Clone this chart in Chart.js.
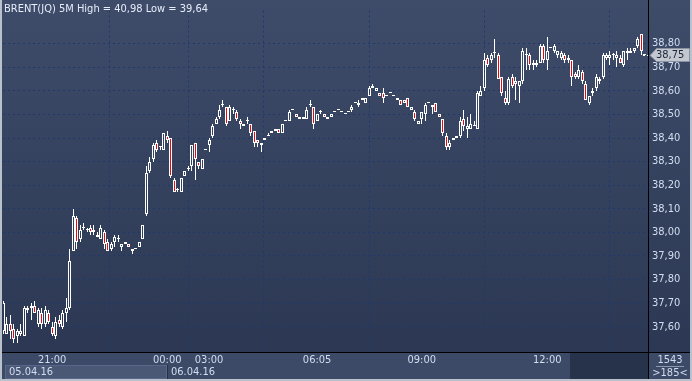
<!DOCTYPE html>
<html><head><meta charset="utf-8">
<script src="https://cdn.jsdelivr.net/npm/chart.js@4/dist/chart.umd.min.js"></script>
<style>html,body{margin:0;padding:0;background:#2e3a56;overflow:hidden}</style>
</head><body>
<canvas id="c" width="692" height="381" style="display:block;width:692px;height:381px"></canvas>
<script>
const chartTitle = 'BRENT(JQ) 5M High = 40,98 Low = 39,64';
const opens = [37.58,37.57,37.61,37.59,37.56,37.57,37.56,37.67,37.68,37.69,
37.61,37.66,37.61,37.66,37.60,37.56,37.63,37.60,37.66,
37.68,37.92,38.06,37.97,38.02,38.01,38.02,38.00,37.98,37.97,
38.00,37.96,37.93,37.96,37.97,37.94,37.95,37.95,37.92,37.93,
37.94,37.97,38.08,38.26,38.31,38.38,38.36,38.35,38.41,38.40,
38.22,38.18,38.17,38.24,38.27,38.28,38.38,38.30,38.27,38.35,
38.37,38.41,38.46,38.49,38.54,38.53,38.47,38.52,38.51,38.47,
38.45,38.47,38.46,38.43,38.39,38.37,38.40,38.41,38.43,38.43,
38.44,38.42,38.47,38.47,38.52,38.50,38.48,38.48,38.48,38.54,
38.53,38.47,38.51,38.50,38.48,38.49,38.51,38.52,38.51,38.50,
38.51,38.52,38.55,38.54,38.57,38.55,38.58,38.62,38.60,38.59,
38.59,38.58,38.59,38.58,38.57,38.56,38.55,38.57,38.52,38.51,
38.46,38.48,38.50,38.55,38.54,38.55,38.50,38.48,38.41,38.36,
38.39,38.41,38.41,38.48,38.44,38.44,38.45,38.44,38.58,38.61,
38.74,38.73,38.76,38.75,38.66,38.57,38.55,38.66,38.63,38.62,
38.64,38.75,38.75,38.72,38.71,38.72,38.79,38.73,38.78,38.77,
38.75,38.74,38.75,38.73,38.73,38.67,38.66,38.68,38.63,38.55,
38.59,38.61,38.65,38.66,38.74,38.74,38.75,38.74,38.74,38.71,
38.76,38.76,38.77,38.79,38.84,38.75];
const highs = [37.71,37.64,37.65,37.61,37.59,37.61,37.69,37.69,37.70,37.71,
37.68,37.68,37.69,37.67,37.62,37.64,37.65,37.67,37.72,
37.93,38.10,38.07,38.03,38.04,38.02,38.03,38.03,38.00,38.03,
38.01,37.97,37.96,37.99,37.99,37.95,37.96,37.95,37.93,37.93,
37.96,38.03,38.28,38.32,38.38,38.39,38.36,38.42,38.43,38.40,
38.23,38.19,38.23,38.26,38.28,38.37,38.38,38.30,38.31,38.35,
38.40,38.46,38.49,38.54,38.56,38.53,38.54,38.53,38.52,38.48,
38.46,38.49,38.46,38.43,38.39,38.38,38.40,38.42,38.43,38.44,
38.44,38.46,38.47,38.52,38.52,38.50,38.49,38.49,38.53,38.56,
38.53,38.50,38.52,38.50,38.49,38.50,38.51,38.52,38.51,38.50,
38.51,38.54,38.55,38.56,38.57,38.57,38.62,38.63,38.61,38.59,
38.61,38.58,38.59,38.58,38.57,38.56,38.56,38.57,38.53,38.52,
38.47,38.51,38.55,38.55,38.54,38.55,38.50,38.48,38.42,38.39,
38.40,38.41,38.49,38.52,38.49,38.50,38.47,38.60,38.62,38.76,
38.75,38.76,38.82,38.76,38.66,38.60,38.66,38.67,38.66,38.64,
38.78,38.78,38.76,38.73,38.73,38.80,38.80,38.83,38.78,38.80,
38.77,38.77,38.76,38.75,38.73,38.68,38.71,38.69,38.64,38.58,
38.61,38.67,38.66,38.76,38.76,38.77,38.76,38.77,38.75,38.77,
38.78,38.78,38.78,38.83,38.84,38.75];
const lows = [37.57,37.57,37.55,37.53,37.53,37.56,37.56,37.66,37.63,37.66,
37.60,37.59,37.60,37.61,37.56,37.55,37.60,37.59,37.62,
37.67,37.92,37.93,37.96,38.01,38.00,37.99,37.99,37.98,37.97,
37.93,37.92,37.92,37.94,37.96,37.92,37.95,37.94,37.91,37.93,
37.94,37.97,38.07,38.25,38.30,38.34,38.35,38.35,38.38,38.23,
38.17,38.17,38.17,38.24,38.26,38.26,38.22,38.27,38.27,38.35,
38.34,38.40,38.46,38.48,38.53,38.45,38.47,38.50,38.47,38.44,
38.45,38.46,38.41,38.36,38.36,38.34,38.39,38.41,38.42,38.43,
38.42,38.42,38.47,38.47,38.52,38.49,38.48,38.48,38.48,38.53,
38.44,38.47,38.50,38.49,38.48,38.49,38.51,38.52,38.51,38.50,
38.51,38.51,38.55,38.53,38.56,38.55,38.58,38.61,38.60,38.58,
38.55,38.58,38.59,38.58,38.56,38.54,38.55,38.53,38.52,38.47,
38.46,38.46,38.47,38.55,38.50,38.51,38.49,38.41,38.35,38.35,
38.39,38.40,38.40,38.43,38.40,38.44,38.45,38.44,38.58,38.60,
38.70,38.72,38.74,38.65,38.58,38.54,38.54,38.61,38.56,38.55,
38.63,38.69,38.69,38.69,38.70,38.72,38.72,38.69,38.78,38.76,
38.74,38.73,38.72,38.72,38.62,38.65,38.65,38.63,38.56,38.54,
38.58,38.60,38.63,38.65,38.73,38.71,38.73,38.70,38.72,38.70,
38.73,38.76,38.76,38.78,38.75,38.75];
const closes = [37.70,37.61,37.58,37.55,37.58,37.58,37.68,37.68,37.69,37.66,
37.67,37.61,37.67,37.62,37.57,37.62,37.61,37.66,37.68,
37.88,38.07,37.96,38.01,38.02,38.01,38.00,38.01,37.99,38.02,
37.95,37.92,37.95,37.98,37.97,37.95,37.96,37.94,37.93,37.93,
37.96,38.03,38.25,38.30,38.37,38.35,38.36,38.42,38.39,38.24,
38.17,38.18,38.23,38.26,38.27,38.37,38.31,38.28,38.31,38.35,
38.39,38.45,38.48,38.52,38.54,38.46,38.53,38.52,38.48,38.46,
38.46,38.47,38.42,38.38,38.38,38.38,38.39,38.41,38.42,38.44,
38.42,38.46,38.47,38.51,38.52,38.49,38.49,38.49,38.52,38.54,
38.46,38.50,38.51,38.49,38.49,38.50,38.51,38.52,38.51,38.50,
38.51,38.53,38.55,38.55,38.56,38.57,38.61,38.61,38.61,38.58,
38.57,38.58,38.59,38.58,38.56,38.54,38.56,38.53,38.53,38.48,
38.47,38.51,38.54,38.55,38.53,38.51,38.49,38.42,38.36,38.38,
38.40,38.40,38.47,38.45,38.45,38.46,38.45,38.59,38.60,38.73,
38.71,38.75,38.76,38.65,38.59,38.55,38.65,38.62,38.64,38.64,
38.77,38.75,38.71,38.71,38.72,38.79,38.73,38.77,38.78,38.79,
38.77,38.76,38.73,38.74,38.66,38.66,38.69,38.64,38.56,38.58,
38.60,38.66,38.64,38.75,38.75,38.75,38.75,38.75,38.72,38.77,
38.77,38.77,38.78,38.82,38.77,38.75];
const timeLabels = ['21:00','00:00','03:00','06:05','09:00','12:00'];
const timeIndex = [14,47,59,90,120,156];
const dateLabels = ['05.04.16','06.04.16'];
const yTicks = [37.6,37.7,37.8,37.9,38.0,38.1,38.2,38.3,38.4,38.5,38.6,38.7,38.8];
const lastPrice = 38.75;
const barsTotal = '1543';
const barsShown = '>185<';

const FONT = "'Liberation Sans Narrow','DejaVu Sans Condensed','Liberation Sans',sans-serif";
const TXT = '#d3ddf0';
const GRID = '#1f3a6a';
const RED = '#e80a0a';
const fmt = v => v.toFixed(2).replace('.', ',');

const N = opens.length;
const idx = opens.map((_, i) => i);
const bodyData = idx.map(i => ({x: i, y: [Math.min(opens[i], closes[i]), Math.max(opens[i], closes[i])]}));
const lowWick = idx.map(i => ({x: i, y: [lows[i], Math.min(opens[i], closes[i])]}));
const highWick = idx.map(i => ({x: i, y: [Math.max(opens[i], closes[i]), highs[i]]}));
const bodyFill = idx.map(i => closes[i] < opens[i] ? RED : 'rgba(0,0,0,0)');

const snap = {
  id: 'snap',
  beforeDatasetsDraw(chart) {
    chart.data.datasets.forEach((ds, d) => {
      chart.getDatasetMeta(d).data.forEach(el => {
        el.x = Math.floor(el.x) + 0.5;
        el.y = Math.round(el.y);
        el.base = Math.round(el.base);
      });
    });
  }
};

const decor = {
  id: 'decor',
  beforeDraw(chart) {
    const ctx = chart.ctx, W = chart.width, H = chart.height;
    const a = chart.chartArea;
    ctx.save();
    const g = ctx.createLinearGradient(0, 0, 0, a.bottom);
    g.addColorStop(0, '#3e4c6a');
    g.addColorStop(1, '#2c3853');
    ctx.fillStyle = g;
    ctx.fillRect(0, 0, W, a.bottom);
    ctx.fillStyle = '#3c4a67';
    ctx.fillRect(0, a.bottom, W, H - a.bottom);
    const xs = chart.scales.x;
    const sep = Math.round(xs.getPixelForValue(timeIndex[1]));
    ctx.fillStyle = '#4a5875';
    ctx.fillRect(5, 365, sep - 5, 14);
    ctx.strokeStyle = '#58678a';
    ctx.lineWidth = 1;
    ctx.strokeRect(5.5, 365.5, sep - 6, 13);
    ctx.strokeStyle = '#263149';
    ctx.beginPath(); ctx.moveTo(sep + 0.5, 365); ctx.lineTo(sep + 0.5, 379); ctx.stroke();
    ctx.fillStyle = '#27324b';
    ctx.fillRect(570, a.bottom + 1, a.right - 570, H - a.bottom - 3);
    ctx.restore();
  },
  afterDraw(chart) {
    const ctx = chart.ctx, W = chart.width, H = chart.height;
    const a = chart.chartArea;
    const ys = chart.scales.y;
    ctx.save();
    ctx.strokeStyle = '#000';
    ctx.lineWidth = 1;
    ctx.beginPath();
    ctx.moveTo(a.right + 0.5, 0); ctx.lineTo(a.right + 0.5, H - 2);
    ctx.moveTo(0, a.bottom + 0.5); ctx.lineTo(W, a.bottom + 0.5);
    ctx.stroke();
    ctx.font = '11px ' + FONT;
    ctx.fillStyle = '#e6ecf8';
    ctx.textBaseline = 'middle';
    ctx.textAlign = 'left';
    ctx.fillText(chartTitle, 4, 9);
    ctx.fillStyle = TXT;
    ctx.fillText(dateLabels[0], 9, 372);
    const sep = Math.round(chart.scales.x.getPixelForValue(timeIndex[1]));
    ctx.fillText(dateLabels[1], sep + 4, 372);
    ctx.textAlign = 'center';
    ctx.fillText(barsTotal, 670, 360);
    ctx.fillText(barsShown, 670, 373);
    ctx.strokeStyle = '#8c98b0';
    ctx.beginPath(); ctx.moveTo(656, 366.5); ctx.lineTo(684, 366.5); ctx.stroke();
    const py = Math.round(ys.getPixelForValue(lastPrice));
    ctx.strokeStyle = '#ffffff';
    ctx.setLineDash([2, 2]);
    ctx.beginPath(); ctx.moveTo(a.right - 5, py + 0.5); ctx.lineTo(a.right, py + 0.5); ctx.stroke();
    ctx.setLineDash([]);
    ctx.beginPath();
    ctx.moveTo(650, py + 0.5);
    ctx.lineTo(656.5, py - 6.5);
    ctx.lineTo(689.5, py - 6.5);
    ctx.lineTo(689.5, py + 6.5);
    ctx.lineTo(656.5, py + 6.5);
    ctx.closePath();
    ctx.fillStyle = '#c3c7cf';
    ctx.fill();
    ctx.strokeStyle = '#8a92a2';
    ctx.stroke();
    ctx.fillStyle = '#1c2438';
    ctx.textAlign = 'left';
    ctx.fillText(fmt(lastPrice), 656, py + 0.5);
    ctx.fillStyle = '#b9c1cd';
    ctx.fillRect(0, 0, 2, H);
    ctx.fillRect(0, H - 2, W, 2);
    ctx.fillRect(W - 2, 0, 2, H);
    ctx.restore();
  }
};

new Chart(document.getElementById('c'), {
  type: 'bar',
  data: {
    datasets: [
      {data: lowWick, backgroundColor: '#ffffff', borderWidth: 0, barThickness: 1, grouped: false, inflateAmount: 0, order: 3},
      {data: highWick, backgroundColor: '#ffffff', borderWidth: 0, barThickness: 1, grouped: false, inflateAmount: 0, order: 2},
      {data: bodyData, backgroundColor: bodyFill, borderColor: '#ffffff', borderWidth: 1, borderSkipped: false,
       barThickness: 3, grouped: false, inflateAmount: 0, minBarLength: 1, order: 1}
    ]
  },
  options: {
    responsive: false,
    animation: false,
    devicePixelRatio: 1,
    layout: {padding: {left: 3, top: 1, right: 0, bottom: 0}},
    plugins: {legend: {display: false}, tooltip: {enabled: false}, title: {display: false}},
    scales: {
      x: {
        type: 'linear', min: -0.1, max: 184.9, offset: false,
        afterBuildTicks: s => { s.ticks = timeIndex.map(v => ({value: v})); },
        afterFit: s => { s.height = 29; },
        ticks: {autoSkip: false, maxRotation: 0, padding: 2, color: TXT, font: {family: FONT, size: 11},
          callback: v => { const k = timeIndex.indexOf(v); return k >= 0 ? timeLabels[k] : ''; }},
        grid: {color: GRID, drawTicks: false, lineWidth: 1},
        border: {display: false, dash: [2, 3]}
      },
      y: {
        position: 'right', min: 37.493, max: 38.940,
        afterBuildTicks: s => { s.ticks = yTicks.map(v => ({value: v})); },
        afterFit: s => { s.width = 44; },
        ticks: {padding: 4, color: TXT, font: {family: FONT, size: 11}, callback: v => fmt(v)},
        grid: {color: GRID, drawTicks: false, lineWidth: 1},
        border: {display: false, dash: [2, 3]}
      }
    }
  },
  plugins: [decor, snap]
});
</script>
</body></html>
